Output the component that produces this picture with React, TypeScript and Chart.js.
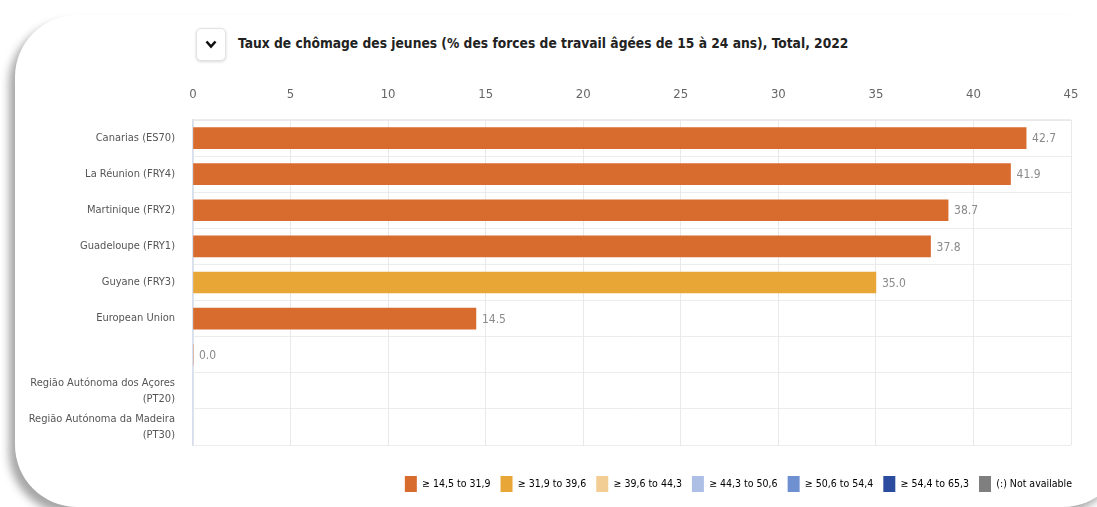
import React, { useEffect, useRef } from "react";
import { Chart, registerables } from "chart.js";

Chart.register(...registerables);

const titleText =
  "Taux de chômage des jeunes (% des forces de travail âgées de 15 à 24 ans), Total, 2022";

const categories: (string | string[])[] = [
  "Canarias (ES70)",
  "La Réunion (FRY4)",
  "Martinique (FRY2)",
  "Guadeloupe (FRY1)",
  "Guyane (FRY3)",
  "European Union",
  "",
  ["Região Autónoma dos Açores", "(PT20)"],
  ["Região Autónoma da Madeira", "(PT30)"],
];

const values: (number | null)[] = [42.7, 41.9, 38.7, 37.8, 35.0, 14.5, 0, null, null];

const barColors = [
  "#D86B2E",
  "#D86B2E",
  "#D86B2E",
  "#D86B2E",
  "#E8A636",
  "#D86B2E",
  "#D86B2E",
  "#D86B2E",
  "#D86B2E",
];

const xTicks = [0, 5, 10, 15, 20, 25, 30, 35, 40, 45];

const legendLabels = [
  "≥ 14,5 to 31,9",
  "≥ 31,9 to 39,6",
  "≥ 39,6 to 44,3",
  "≥ 44,3 to 50,6",
  "≥ 50,6 to 54,4",
  "≥ 54,4 to 65,3",
  "(:) Not available",
];

const legendColors = [
  "#D86B2E",
  "#E8A636",
  "#F2CE94",
  "#AEBFE6",
  "#6E8FD0",
  "#2B4C9E",
  "#7F7F7F",
];

const FONT = "'DejaVu Sans Condensed', 'Liberation Sans Narrow', 'Open Sans', sans-serif";

const valueLabelPlugin = {
  id: "valueLabels",
  afterDatasetsDraw(chart: any) {
    const ctx = chart.ctx;
    const meta = chart.getDatasetMeta(0);
    ctx.save();
    ctx.font = `12px ${FONT}`;
    ctx.fillStyle = "#8a8a8a";
    ctx.textBaseline = "middle";
    ctx.textAlign = "left";
    meta.data.forEach((bar: any, i: number) => {
      const v = values[i];
      if (v === null || v === undefined) return;
      ctx.fillText(v.toFixed(1), bar.x + 6, bar.y + 1);
    });
    ctx.restore();
  },
};

export default function App() {
  const canvasRef = useRef<HTMLCanvasElement | null>(null);

  useEffect(() => {
    if (!canvasRef.current) return;
    const chart = new Chart(canvasRef.current, {
      type: "bar",
      data: {
        labels: categories,
        datasets: [
          {
            data: values,
            backgroundColor: barColors,
            borderWidth: 0,
            barThickness: 21,
            xAxisID: "x",
            yAxisID: "y",
          },
        ],
      },
      options: {
        indexAxis: "y",
        animation: false,
        responsive: false,
        maintainAspectRatio: false,
        layout: { padding: { left: 0, right: 15, top: 0, bottom: 5 } },
        plugins: {
          tooltip: { enabled: false },
          title: { display: false },
          legend: {
            display: true,
            position: "bottom",
            align: "end",
            labels: {
              boxWidth: 12,
              boxHeight: 16,
              padding: 10,
              color: "#444",
              font: { family: FONT, size: 10.5 },
              generateLabels: () =>
                legendLabels.map((t, i) => ({
                  text: t,
                  fillStyle: legendColors[i],
                  strokeStyle: legendColors[i],
                  lineWidth: 0,
                  hidden: false,
                  index: i,
                  datasetIndex: 0,
                })),
            },
          },
        },
        scales: {
          y: {
            type: "category",
            afterFit: (s: any) => {
              s.width = 193;
            },
            grid: { color: "#ececec", offset: true, drawTicks: false },
            border: { display: true, color: "#d5dfee", width: 1.5 },
            ticks: {
              autoSkip: false,
              padding: 18,
              color: "#555",
              font: { family: FONT, size: 11, lineHeight: 1.45 },
            },
          },
          x: {
            type: "linear",
            position: "top",
            min: 0,
            max: 45,
            afterBuildTicks: (s: any) => {
              s.ticks = xTicks.map((v) => ({ value: v }));
            },
            afterFit: (s: any) => {
              s.height = 120;
            },
            grid: { color: "#e9e9e9", drawTicks: false },
            border: { display: true, color: "#e9e9e9" },
            ticks: {
              padding: 18,
              color: "#666",
              font: { family: FONT, size: 13 },
            },
          },
          padBottom: {
            type: "linear",
            position: "bottom",
            axis: "x",
            display: true,
            grid: { display: false },
            border: { display: false },
            ticks: { display: false },
            afterFit: (s: any) => {
              s.height = 21;
            },
          },
          padRight: {
            type: "linear",
            position: "right",
            axis: "y",
            display: true,
            grid: { display: false },
            border: { display: false },
            ticks: { display: false },
            afterFit: (s: any) => {
              s.width = 11;
            },
          },
        },
      },
      plugins: [valueLabelPlugin],
    } as any);
    return () => chart.destroy();
  }, []);

  return (
    <div
      style={{
        position: "fixed",
        left: 0,
        top: 0,
        width: 1097,
        height: 507,
        overflow: "hidden",
        background: "#ffffff",
      }}
    >
      <div
        style={{
          position: "absolute",
          left: 15,
          top: 15,
          width: 1110,
          height: 492,
          borderRadius: 62,
          background: "#fff",
          boxShadow: "-6px 7px 9px rgba(0,0,0,0.35)",
        }}
      />
      <div
        style={{
          position: "absolute",
          left: 196,
          top: 28,
          width: 30,
          height: 33,
          boxSizing: "border-box",
          border: "1px solid #e2e2e2",
          borderRadius: 5,
          background: "#fff",
          boxShadow: "0 1px 3px rgba(0,0,0,0.15)",
          display: "flex",
          alignItems: "center",
          justifyContent: "center",
        }}
      >
        <svg width="12" height="9" viewBox="0 0 12 9">
          <path d="M1.5 1.5 L6 6.5 L10.5 1.5" stroke="#111" strokeWidth="2.6" fill="none" />
        </svg>
      </div>
      <div
        style={{
          position: "absolute",
          left: 238,
          top: 35,
          fontFamily: FONT,
          fontWeight: "bold",
          fontSize: 13.7,
          color: "#222",
          whiteSpace: "nowrap",
        }}
      >
        {titleText}
      </div>
      <canvas
        ref={canvasRef}
        width={1097}
        height={507}
        style={{ position: "absolute", left: 0, top: 0, width: 1097, height: 507 }}
      />
    </div>
  );
}
